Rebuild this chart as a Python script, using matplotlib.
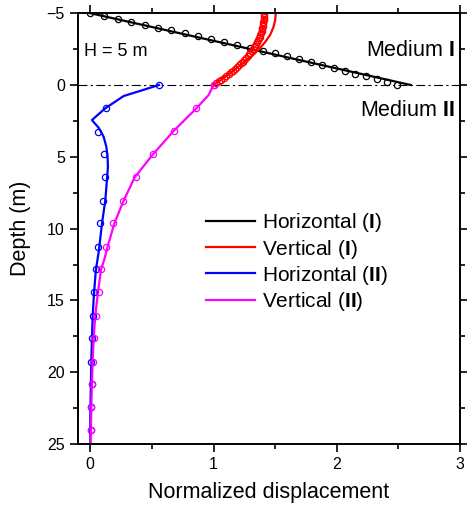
import matplotlib
matplotlib.use('Agg')
import matplotlib.pyplot as plt
from matplotlib.ticker import MultipleLocator

plt.rcParams['font.family'] = ['Liberation Sans', 'DejaVu Sans']
plt.rcParams['mathtext.fontset'] = 'custom'
plt.rcParams['mathtext.rm'] = 'Liberation Sans'
plt.rcParams['mathtext.bf'] = 'Liberation Sans:bold'

# Medium I, horizontal: analytical line and numerical points
h1_line_depth = [-5.0, 0.0]
h1_line_disp = [0.0, 2.6]
h1_pts_depth = [-5.0, -4.8, -4.6, -4.4, -4.2, -4.0, -3.8, -3.6, -3.4, -3.2, -3.0,
                -2.8, -2.6, -2.4, -2.2, -2.0, -1.8, -1.6, -1.4, -1.2, -1.0,
                -0.8, -0.6, -0.4, -0.2, 0.0]
h1_pts_disp = [0.0, 0.108, 0.222, 0.330, 0.441, 0.549, 0.657, 0.765, 0.871, 0.979, 1.084,
               1.189, 1.292, 1.398, 1.500, 1.595, 1.692, 1.790, 1.884, 1.974, 2.063,
               2.152, 2.238, 2.325, 2.406, 2.487]

# Medium I, vertical
v1_line_depth = [0.0, -0.5, -1.0, -1.5, -2.0, -2.5, -3.0, -3.5, -4.0, -4.5, -5.0]
v1_line_disp = [1.0, 1.085, 1.16, 1.235, 1.31, 1.37, 1.42, 1.46, 1.485, 1.50, 1.505]
v1_pts_depth = [0.0, -0.125, -0.25, -0.375, -0.5, -0.625, -0.75, -0.875, -1.0, -1.125,
                -1.25, -1.375, -1.5, -1.625, -1.75, -1.875, -2.0, -2.125, -2.25, -2.375,
                -2.5, -2.625, -2.75, -2.875, -3.0, -3.125, -3.25, -3.375, -3.5, -3.625,
                -3.75, -3.875, -4.0, -4.125, -4.25, -4.375, -4.5, -4.625, -4.75, -4.875, -5.0]
v1_pts_disp = [1.000, 1.022, 1.044, 1.064, 1.085, 1.104, 1.123, 1.141, 1.159, 1.176,
               1.192, 1.207, 1.222, 1.237, 1.250, 1.264, 1.276, 1.288, 1.299, 1.310,
               1.320, 1.330, 1.338, 1.347, 1.355, 1.362, 1.368, 1.374, 1.380, 1.385,
               1.390, 1.394, 1.397, 1.400, 1.403, 1.405, 1.406, 1.408, 1.408, 1.409, 1.409]

# Medium II, horizontal
h2_line_depth = [0.0, 0.77, 1.63, 2.44, 3.0, 3.6, 4.3, 5.0, 5.7, 8.0, 9.63, 11.5,
                 12.9, 14.5, 16.1, 19.2, 23.1, 25.0]
h2_line_disp = [0.557, 0.27, 0.12, 0.013, 0.07, 0.108, 0.13, 0.14, 0.143, 0.122, 0.095, 0.07,
                0.045, 0.03, 0.019, 0.008, 0.0, 0.0]
h2_pts_depth = [0.0, 1.63, 3.25, 4.83, 6.43, 8.06, 9.63, 11.26, 12.84, 14.44, 16.06,
                17.64, 19.27, 20.84, 22.44, 24.05]
h2_pts_disp = [0.557, 0.13, 0.059, 0.114, 0.122, 0.103, 0.081, 0.062, 0.046, 0.032, 0.022,
               0.013, 0.008, 0.013, 0.008, 0.005]

# Medium II, vertical
v2_line_depth = [0.0, 0.7, 1.63, 3.2, 4.83, 6.43, 8.06, 9.63, 11.26, 12.2, 12.84, 14.44,
                 16.06, 17.64, 19.27, 20.84, 22.44, 24.05, 25.0]
v2_line_disp = [1.0, 0.96, 0.86, 0.676, 0.508, 0.36, 0.27, 0.195, 0.14, 0.112, 0.087, 0.062,
                0.04, 0.027, 0.019, 0.013, 0.008, 0.005, 0.0]
v2_pts_depth = [0.0, 1.63, 3.2, 4.83, 6.43, 8.06, 9.63, 11.26, 12.84, 14.44, 16.06,
                17.64, 19.27, 20.84, 22.44, 24.05]
v2_pts_disp = [1.0, 0.86, 0.676, 0.508, 0.37, 0.262, 0.181, 0.127, 0.087, 0.073, 0.049,
               0.032, 0.022, 0.013, 0.008, 0.005]

fig = plt.figure(figsize=(4.67, 5.07), dpi=100)
ax = fig.add_axes([0.167, 0.124, 0.818, 0.850])

lw = 1.6
mk = dict(marker='o', ms=4.5, mfc='none', mew=0.9, ls='none')

ax.plot(h1_line_disp, h1_line_depth, color='black', lw=lw, label=r'Horizontal ($\mathbf{I}$)')
ax.plot(v1_line_disp, v1_line_depth, color='red', lw=lw, label=r'Vertical ($\mathbf{I}$)')
ax.plot(h2_line_disp, h2_line_depth, color='blue', lw=lw, label=r'Horizontal ($\mathbf{II}$)')
ax.plot(v2_line_disp, v2_line_depth, color='magenta', lw=lw, label=r'Vertical ($\mathbf{II}$)')

ax.plot(h1_pts_disp, h1_pts_depth, mec='black', **mk)
ax.plot(v1_pts_disp, v1_pts_depth, mec='red', **mk)
ax.plot(h2_pts_disp, h2_pts_depth, mec='blue', **mk)
ax.plot(v2_pts_disp, v2_pts_depth, mec='magenta', **mk)

# interface between the two media
ax.axhline(0, color='black', lw=0.8, dashes=(8, 3, 2, 3), zorder=0)

ax.set_xlim(-0.1, 3)
ax.set_ylim(25, -5)
ax.xaxis.set_major_locator(MultipleLocator(1))
ax.xaxis.set_minor_locator(MultipleLocator(0.5))
ax.yaxis.set_major_locator(MultipleLocator(5))
ax.yaxis.set_minor_locator(MultipleLocator(2.5))
ax.tick_params(which='major', direction='out', length=6, width=1.2, labelsize=11.5)
ax.tick_params(which='minor', direction='out', length=3.5, width=1.2)
ax.tick_params(which='both', top=True, right=True)
for sp in ax.spines.values():
    sp.set_linewidth(1.4)

ax.set_xlabel('Normalized displacement', fontsize=15.5, labelpad=7)
ax.set_ylabel('Depth (m)', fontsize=15.5, labelpad=11)

ax.text(-0.055, -2.3, 'H = 5 m', fontsize=13, ha='left', va='center')
ax.text(2.96, -2.4, r'Medium $\mathbf{I}$', fontsize=15.5, ha='right', va='center')
ax.text(2.96, 1.8, r'Medium $\mathbf{II}$', fontsize=15.5, ha='right', va='center')

ax.legend(loc='upper left', bbox_to_anchor=(0.441, 0.583), bbox_transform=fig.transFigure,
          frameon=False, fontsize=15, handlelength=2.35, handletextpad=0.32,
          labelspacing=0.15, borderpad=0, borderaxespad=0)

fig.savefig('out.png', dpi=100)
